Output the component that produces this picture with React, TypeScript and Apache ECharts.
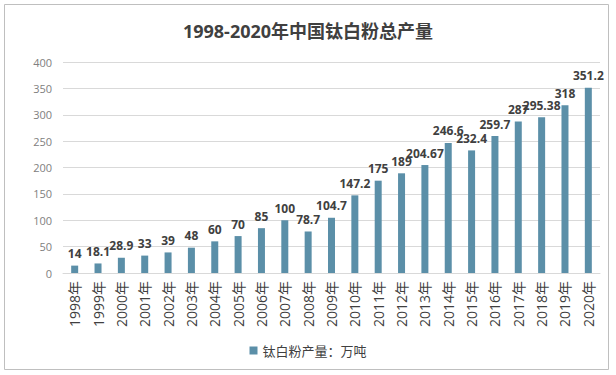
import React, { useEffect, useRef } from "react";
import * as echarts from "echarts";

const years = ["1998年","1999年","2000年","2001年","2002年","2003年","2004年","2005年","2006年","2007年","2008年","2009年","2010年","2011年","2012年","2013年","2014年","2015年","2016年","2017年","2018年","2019年","2020年"];
const values = [14, 18.1, 28.9, 33, 39, 48, 60, 70, 85, 100, 78.7, 104.7, 147.2, 175, 189, 204.67, 246.6, 232.4, 259.7, 287, 295.38, 318, 351.2];
const seriesName = "钛白粉产量：万吨";
const titleText = "1998-2020年中国钛白粉总产量";

const FONT = "'Open Sans', 'Noto Sans CJK SC', sans-serif";

export default function App() {
  const ref = useRef<HTMLDivElement>(null);
  useEffect(() => {
    const chart = echarts.init(ref.current!, null, { renderer: "svg" });
    chart.setOption({
      animation: false,
      backgroundColor: "#fff",
      title: {
        text: titleText,
        left: "center",
        top: 17,
        textStyle: { fontFamily: FONT, fontSize: 18, fontWeight: "bold", color: "#404040" },
      },
      grid: { left: 63, right: 16, top: 62, bottom: 102 },
      legend: {
        data: [seriesName],
        top: 339,
        left: "center",
        itemWidth: 8,
        itemHeight: 8,
        icon: "rect",
        itemGap: 4,
        textStyle: { fontFamily: FONT, fontSize: 13, color: "#404040" },
      },
      xAxis: {
        type: "category",
        data: years,
        axisTick: { show: false },
        axisLine: { lineStyle: { color: "#d9d9d9" } },
        axisLabel: { rotate: 90, interval: 0, fontFamily: FONT, fontSize: 14, color: "#404040", margin: 8 },
      },
      yAxis: {
        type: "value",
        min: 0,
        max: 400,
        interval: 50,
        axisLine: { show: false },
        axisTick: { show: false },
        splitLine: { lineStyle: { color: "#d9d9d9" } },
        axisLabel: { fontFamily: FONT, fontSize: 11, color: "#808080", margin: 11 },
      },
      series: [
        {
          name: seriesName,
          type: "bar",
          data: values,
          barWidth: 7,
          itemStyle: { color: "#5B8FA8" },
          label: {
            show: true,
            position: "top",
            distance: 6,
            fontFamily: FONT,
            fontSize: 12,
            fontWeight: "bold",
            color: "#404040",
          },
        },
      ],
      graphic: [
        {
          type: "rect",
          shape: { x: 4.5, y: 4.5, width: 604, height: 365 },
          style: { fill: "none", stroke: "#bfbfbf", lineWidth: 1 },
          silent: true,
        },
      ],
    });
    return () => chart.dispose();
  }, []);
  return <div ref={ref} style={{ width: 616, height: 375, position: "absolute", left: 0, top: 0 }} />;
}
